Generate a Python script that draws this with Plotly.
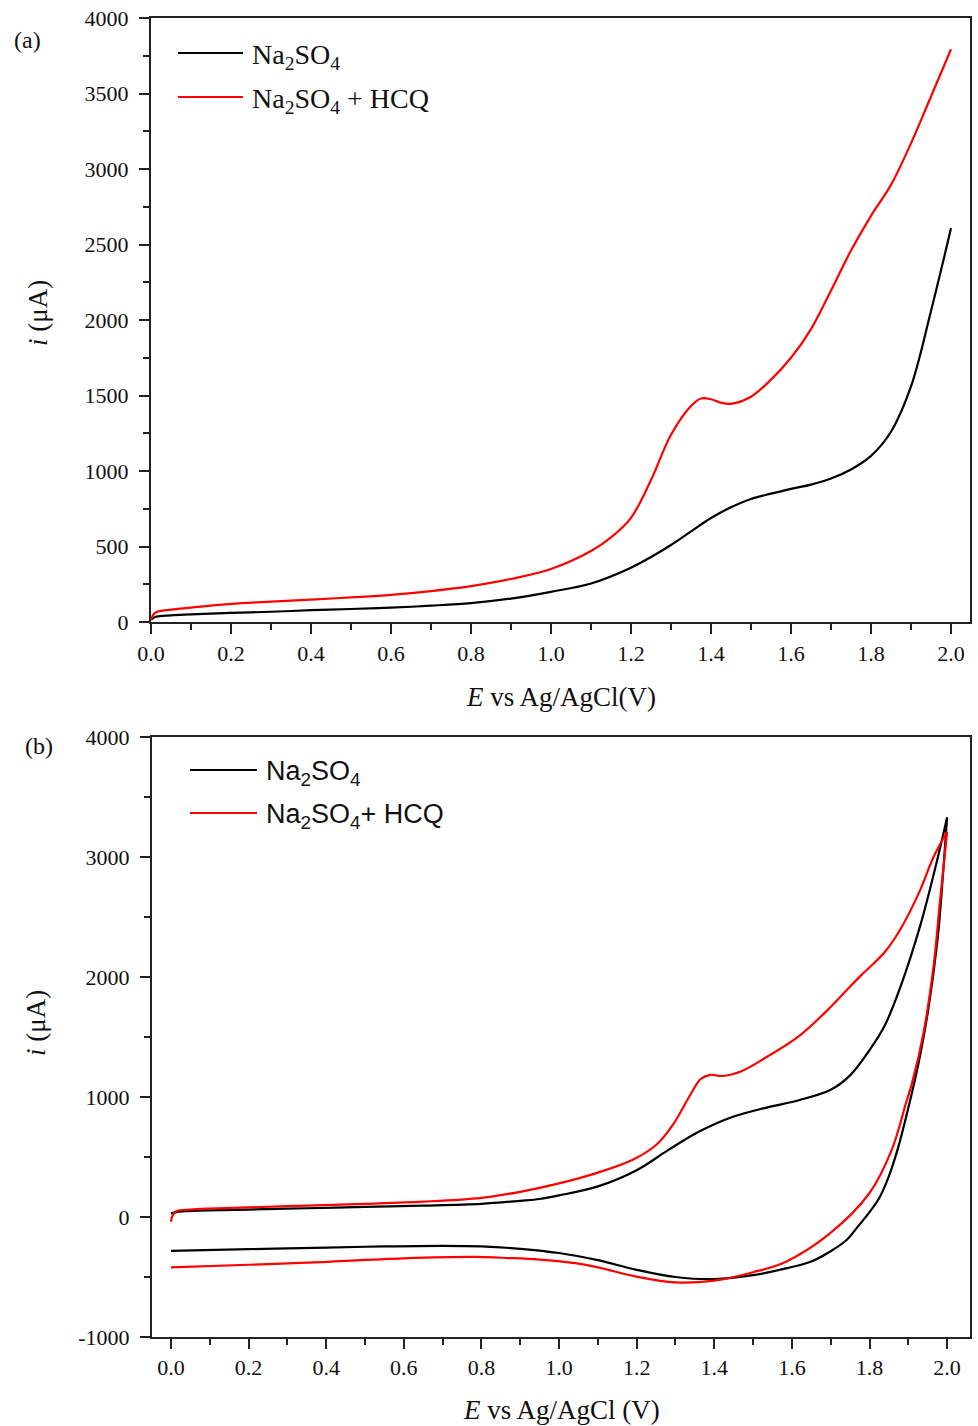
import plotly.graph_objects as go

# ---------------- data ----------------
# Panel (a): linear sweep voltammetry
E_a_na = [0.0, 0.01, 0.05, 0.1, 0.2, 0.3, 0.4, 0.5, 0.6, 0.7, 0.8, 0.9, 1.0, 1.1, 1.2, 1.25, 1.3,
          1.35, 1.4, 1.45, 1.5, 1.55, 1.6, 1.65, 1.7, 1.75, 1.8, 1.85, 1.9, 1.95, 2.0]
i_a_na = [15, 33, 44, 50, 60, 68, 78, 86, 95, 108, 125, 155, 200, 255, 360, 430, 510,
          600, 689, 760, 815, 850, 882, 910, 950, 1010, 1100, 1260, 1560, 2060, 2607]

E_a_hcq = [0.0, 0.01, 0.05, 0.1, 0.2, 0.3, 0.4, 0.5, 0.6, 0.7, 0.8, 0.9, 1.0, 1.1, 1.15, 1.2, 1.25,
           1.3, 1.35, 1.375, 1.4, 1.425, 1.45, 1.5, 1.55, 1.6, 1.65, 1.7, 1.75, 1.8, 1.85, 1.9,
           1.95, 2.0]
i_a_hcq = [15, 60, 82, 95, 120, 135, 148, 163, 180, 205, 238, 285, 351, 470, 560, 690, 940,
           1240, 1430, 1480, 1475, 1452, 1445, 1492, 1605, 1750, 1940, 2195, 2460, 2690, 2895, 3170,
           3480, 3793]

# Panel (b): cyclic voltammetry, forward and reverse scans
E_b_na_fwd = [0.0, 0.02, 0.1, 0.2, 0.35, 0.5, 0.65, 0.8, 0.9, 0.95, 1.0, 1.1, 1.2, 1.28, 1.36,
              1.45, 1.535, 1.62, 1.7, 1.75, 1.8, 1.84, 1.88, 1.93, 1.965, 2.0]
i_b_na_fwd = [30, 45, 55, 62, 73, 85, 95, 110, 135, 150, 180, 255, 390, 555, 710,
              837, 912, 975, 1060, 1180, 1390, 1600, 1920, 2420, 2850, 3330]

E_b_na_rev = [2.0, 1.99, 1.975, 1.95, 1.925, 1.905, 1.874, 1.85, 1.827, 1.8, 1.77, 1.741, 1.7,
              1.65, 1.585, 1.5, 1.4, 1.3, 1.2, 1.1, 1.0, 0.9, 0.8, 0.7, 0.55, 0.4, 0.2, 0.0]
i_b_na_rev = [3330, 2880, 2300, 1700, 1260, 975, 580, 340, 169, 40, -80, -192, -285,
              -370, -428, -485, -518, -500, -440, -360, -300, -265, -245, -240, -245, -255, -268, -283]

E_b_hcq_fwd = [0.0, 0.005, 0.015, 0.05, 0.1, 0.2, 0.35, 0.5, 0.65, 0.8, 0.9, 1.0, 1.1, 1.19,
               1.25, 1.295, 1.338, 1.365, 1.39, 1.42, 1.47, 1.535, 1.62, 1.7, 1.75, 1.78, 1.81,
               1.84, 1.88, 1.93, 1.965, 2.0]
i_b_hcq_fwd = [-40, 20, 50, 62, 70, 80, 95, 110, 128, 160, 210, 280, 370, 477,
               600, 777, 1017, 1150, 1185, 1175, 1215, 1333, 1512, 1750, 1920, 2020, 2110,
               2210, 2400, 2720, 3000, 3210]

E_b_hcq_rev = [2.0, 1.982, 1.965, 1.939, 1.91, 1.895, 1.857, 1.8, 1.698, 1.585,
               1.5, 1.4, 1.3, 1.2, 1.1, 1.036, 0.95, 0.87, 0.78, 0.6, 0.35, 0.2, 0.0]
i_b_hcq_rev = [3210, 2640, 2086, 1530, 1120, 960, 558, 200, -137, -372,
               -460, -530, -545, -497, -420, -383, -355, -342, -333, -345, -381, -398, -419]

legend_labels_a = ["Na<sub>2</sub>SO<sub>4</sub>", "Na<sub>2</sub>SO<sub>4</sub> + HCQ"]
legend_labels_b = ["Na<sub>2</sub>SO<sub>4</sub>", "Na<sub>2</sub>SO<sub>4</sub>+ HCQ"]
x_ticks = [0.0, 0.2, 0.4, 0.6, 0.8, 1.0, 1.2, 1.4, 1.6, 1.8, 2.0]
y_ticks_a = [0, 500, 1000, 1500, 2000, 2500, 3000, 3500, 4000]
y_ticks_b = [-1000, 0, 1000, 2000, 3000, 4000]

# ---------------- figure ----------------
W, H = 978, 1426
BLACK = "#000000"
RED = "#ff0000"
AX = "#222222"
TXT = "#111111"
SERIF = "Liberation Serif, Times New Roman, serif"
SANS = "Liberation Sans, Arial, sans-serif"


def px(x):
    return x / W


def py(y):
    return 1 - y / H


fig = go.Figure()
line_kw = dict(width=2.2, shape="spline", smoothing=1.0)

fig.add_trace(go.Scatter(x=E_a_na, y=i_a_na, mode="lines", line=dict(color=BLACK, **line_kw),
                         xaxis="x", yaxis="y", showlegend=False))
fig.add_trace(go.Scatter(x=E_a_hcq, y=i_a_hcq, mode="lines", line=dict(color=RED, **line_kw),
                         xaxis="x", yaxis="y", showlegend=False))

for E, I, c in [(E_b_na_fwd, i_b_na_fwd, BLACK), (E_b_na_rev, i_b_na_rev, BLACK),
                (E_b_hcq_fwd, i_b_hcq_fwd, RED), (E_b_hcq_rev, i_b_hcq_rev, RED)]:
    fig.add_trace(go.Scatter(x=E, y=I, mode="lines", line=dict(color=c, **line_kw),
                             xaxis="x2", yaxis="y2", showlegend=False))

axis_common = dict(showline=True, linecolor=AX, linewidth=2, mirror=True, ticks="outside",
                   ticklen=10, tickwidth=2, tickcolor=AX, showgrid=False, zeroline=False,
                   automargin=False,
                   tickfont=dict(family=SERIF, size=22, color=TXT))
minor_common = dict(ticks="outside", ticklen=6, tickwidth=2, tickcolor=AX, showgrid=False)

fig.update_layout(
    template="none",
    width=W, height=H, margin=dict(l=0, r=0, t=0, b=0, autoexpand=False),
    paper_bgcolor="white", plot_bgcolor="white",
    xaxis=dict(domain=[px(151), px(970)], range=[0.0, 2.0475], anchor="y",
               tickvals=x_ticks, ticktext=[f"{v:.1f}" for v in x_ticks], ticklabelstandoff=1,
               minor=dict(dtick=0.1, tick0=0, **minor_common), **axis_common),
    yaxis=dict(domain=[py(622), py(18)], range=[0, 4000], anchor="x",
               tickvals=y_ticks_a, ticktext=[str(v) for v in y_ticks_a], ticklabelstandoff=6,
               minor=dict(dtick=250, tick0=0, **minor_common), **axis_common),
    xaxis2=dict(domain=[px(152), px(970)], range=[-0.049, 2.059], anchor="y2",
                tickvals=x_ticks, ticktext=[f"{v:.1f}" for v in x_ticks], ticklabelstandoff=0,
                minor=dict(dtick=0.1, tick0=0, **minor_common), **axis_common),
    yaxis2=dict(domain=[py(1337), py(737)], range=[-1000, 4000], anchor="x2",
                tickvals=y_ticks_b, ticktext=[str(v) for v in y_ticks_b], ticklabelstandoff=6,
                minor=dict(dtick=500, tick0=0, **minor_common), **axis_common),
)

ann = []


def note(x, y, text, size, family=SERIF, xanchor="center", angle=0):
    ann.append(dict(xref="paper", yref="paper", x=px(x), y=py(y), text=text, showarrow=False,
                    textangle=angle, xanchor=xanchor, yanchor="middle",
                    font=dict(family=family, size=size, color=TXT)))


# axis titles
note(561, 697, "<i>E</i> vs Ag/AgCl(V)", 27)
note(561, 1410, "<i>E</i> vs Ag/AgCl (V)", 27)
note(38, 313, "<i>i</i> (μA)", 27, angle=-90)
note(36, 1023, "<i>i</i> (μA)", 27, angle=-90)
# panel labels
note(27, 40, "(a)", 24)
note(39, 746, "(b)", 24)

shapes = []
# legend (a)
for k, (lab, col) in enumerate(zip(legend_labels_a, [BLACK, RED])):
    yy = [53, 97][k]
    shapes.append(dict(type="line", xref="paper", yref="paper", x0=px(178), x1=px(243),
                       y0=py(yy), y1=py(yy), line=dict(color=col, width=2.2)))
    note(250, yy + 3, lab, 28, xanchor="left")
# legend (b)
for k, (lab, col) in enumerate(zip(legend_labels_b, [BLACK, RED])):
    yy = [770, 813][k]
    shapes.append(dict(type="line", xref="paper", yref="paper", x0=px(190), x1=px(257),
                       y0=py(yy), y1=py(yy), line=dict(color=col, width=2.2)))
    note(264, yy + 3, lab, 27, family=SANS, xanchor="left")

fig.update_layout(annotations=ann, shapes=shapes)
fig.write_html("out.html")
